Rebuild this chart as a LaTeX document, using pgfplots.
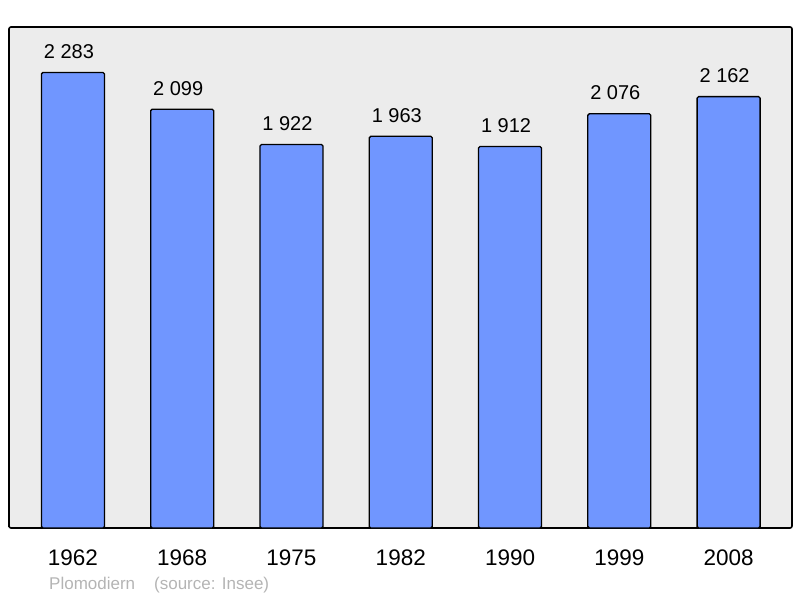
\documentclass[border=0pt]{standalone}
\usepackage{pgfplots}
\pgfplotsset{compat=1.18}
\usepackage{fontspec}
\setmainfont{Liberation Sans}
\definecolor{barblue}{RGB}{112,150,255}
\definecolor{bggray}{RGB}{236,236,236}
\definecolor{footgray}{RGB}{180,180,180}
\begin{document}
\begin{tikzpicture}[x=1pt,y=1pt]
\path[use as bounding box] (0,0) rectangle (800,598);
\begin{axis}[
  at={(9pt,70pt)}, anchor=south west,
  scale only axis, width=783pt, height=501pt,
  xmin=-0.585, xmax=6.58, ymin=0, ymax=2511,
  axis background/.style={fill=bggray},
  axis line style={line width=1.6pt, rounded corners=2pt},
  ybar, bar width=63pt,
  ytick=\empty, xtick={0,...,6},
  xticklabels={1962,1968,1975,1982,1990,1999,2008},
  major tick length=0pt,
  xticklabel style={font=\fontsize{22.5}{24}\selectfont, anchor=base, yshift=-37pt, inner sep=0pt},
  nodes near coords,
  every node near coord/.append style={font=\fontsize{20}{22}\selectfont, anchor=base, yshift=14pt, xshift=-4pt, inner sep=0pt, text=black},
  /pgf/number format/.cd, 1000 sep={\ }, assume math mode=true,
]
\addplot[fill=barblue, draw=black, line width=1.3pt, rounded corners=1.5pt] coordinates {
  (0,2283) (1,2099) (2,1922) (3,1963) (4,1912) (5,2076) (6,2162)
};
\end{axis}
\node[anchor=base west, text=footgray, font=\fontsize{17}{19}\selectfont, inner sep=0pt] at (49,9) {Plomodiern\hspace{19pt}(source: Insee)};
\end{tikzpicture}
\end{document}
